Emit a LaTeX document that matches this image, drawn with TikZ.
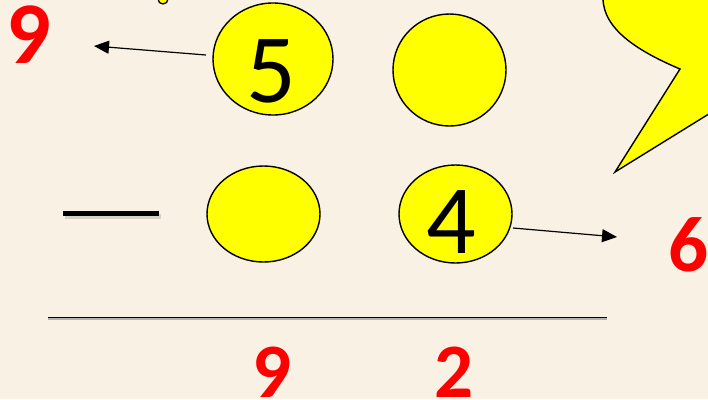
\documentclass[tikz,border=0pt]{standalone}
\usepackage{fontspec}
\setmainfont{Carlito}
\usetikzlibrary{shapes.geometric,arrows.meta}
\definecolor{bg}{RGB}{249,241,227}
\definecolor{ylw}{RGB}{255,255,0}
\definecolor{rd}{RGB}{255,0,0}
\begin{document}
\begin{tikzpicture}[x=1pt,y=-1pt,
  ball/.style={ellipse,draw=black,line width=1.4pt,fill=ylw,inner sep=0pt},
  digit/.style={inner sep=0pt,font=\fontsize{98}{98}\selectfont},
  reddigit/.style={inner sep=0pt,text=rd,font=\bfseries\fontsize{#1}{#1}\selectfont},
  arr/.style={line width=1.2pt,-{Triangle[length=15pt,width=13pt]}}]
\fill[bg] (0,0) rectangle (708,399);
\useasboundingbox (0,0) rectangle (708,399);
\begin{scope}
\clip (0,0) rectangle (708,399);
% callout at top right
\fill[ylw] (603,-2) .. controls (603,30) and (640,52) .. (680,69) -- (615,172) -- (712,112) -- (712,-2) -- cycle;
\draw[line width=1.4pt,line join=miter] (603,-2) .. controls (603,30) and (640,52) .. (680,69) -- (615,172) -- (712,112);
% small bubble
\draw[line width=1.3pt,fill=ylw] (163,-1) circle (5);
\end{scope}
% balls
\node[ball,minimum width=120pt,minimum height=112pt] (c5) at (273,59) {};
\node[ball,minimum width=113pt,minimum height=112pt] (ctr) at (449.5,70) {};
\node[ball,minimum width=113pt,minimum height=96pt] (cbl) at (263.5,214) {};
\node[ball,minimum width=113pt,minimum height=98pt] (c4) at (455.5,214) {};
\node[digit] (t5) at (271,71) {5};
\node[digit] (t4) at (451,222) {4};
% minus sign
\draw[line width=5pt,gray!60,opacity=0.5] (65,216) -- (161,216);
\draw[line width=5pt] (63,213) -- (159,213);
% rule
\draw[line width=2.2pt,gray!60] (48,319) -- (607,319);
\draw[line width=1.4pt] (48,317.5) -- (607,317.5);
% red digits
\node[reddigit=88] (r9a) at (29,35) {9};
\node[reddigit=79,anchor=north west] (r6) at (668,217) {6};
\node[reddigit=77] (r9b) at (272,372.5) {9};
\node[reddigit=77] (r2) at (454,372.5) {2};
% arrows
\coordinate (s1) at (206,55);
\coordinate (e1) at (94,46);
\coordinate (s2) at (513,228);
\coordinate (e2) at (617,237);
\draw[arr] (s1) -- (e1);
\draw[arr] (s2) -- (e2);
\end{tikzpicture}
\end{document}
